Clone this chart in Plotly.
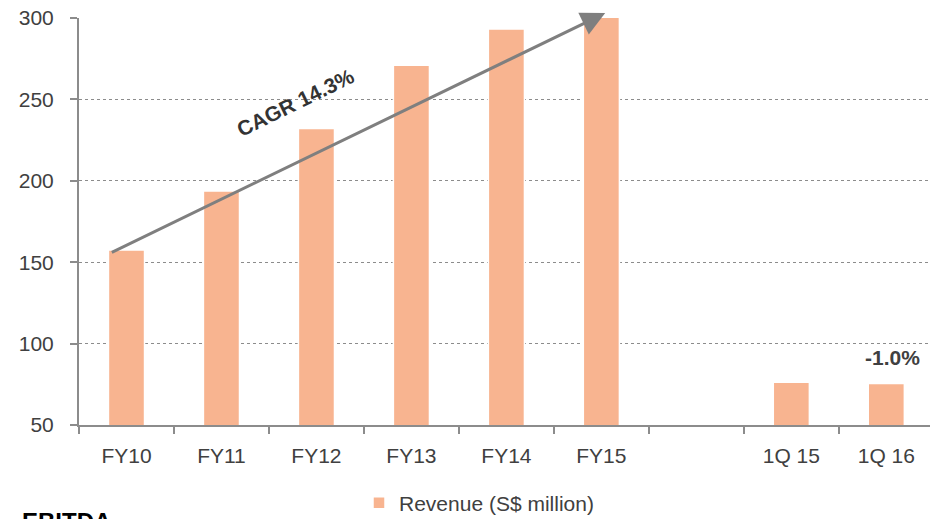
import plotly.graph_objects as go

categories = ["FY10", "FY11", "FY12", "FY13", "FY14", "FY15", " ", "1Q 15", "1Q 16"]
revenue = [157.5, 193.7, 232.2, 271.0, 293.2, 300.5, None, 76.3, 75.5]
series_name = "Revenue (S$ million)"
y_ticks = [50, 100, 150, 200, 250, 300]
cagr_label = "CAGR 14.3%"
change_label = "-1.0%"
section_title = "EBITDA"

FONT = "Liberation Sans, Arial, sans-serif"
GRAY_TXT = "#404040"
BAR = "#F8B490"

FIG_W, FIG_H = 930, 519
plot_left, plot_right, plot_top, plot_bottom = 79, 930, 18, 425
H = plot_bottom - plot_top
W = plot_right - plot_left

fig = go.Figure()
fig.add_trace(go.Bar(
    x=categories, y=revenue, name=series_name,
    marker=dict(color=BAR, line=dict(color="white", width=1.5)),
    width=0.38, showlegend=True,
))

# CAGR arrow from FY10 to FY15
fig.add_annotation(
    x=5.04, y=303, ax=-0.17, ay=155.6, xref="x", yref="y", axref="x", ayref="y",
    text="", showarrow=True, arrowhead=2, arrowsize=1.6, arrowwidth=3,
    arrowcolor="#7F7F7F",
)
fig.add_annotation(
    x=1.78, y=247.8, xref="x", yref="y", text="<b>" + cagr_label + "</b>",
    showarrow=False, textangle=-26, font=dict(family=FONT, size=21, color="#333333"),
)
fig.add_annotation(
    x=8.06, y=91.2, xref="x", yref="y", text="<b>" + change_label + "</b>",
    showarrow=False, font=dict(family=FONT, size=21, color=GRAY_TXT),
)
fig.add_annotation(
    x=(20 - plot_left) / W, y=(plot_bottom - 506) / H, xref="paper", yref="paper",
    text="<b>" + section_title + "</b>",
    showarrow=False, xanchor="left", yanchor="top",
    font=dict(family=FONT, size=24, color="#000000"),
)

fig.update_layout(
    width=FIG_W, height=FIG_H,
    margin=dict(l=plot_left, r=FIG_W - plot_right, t=plot_top, b=FIG_H - plot_bottom, pad=0,
                autoexpand=False),
    paper_bgcolor="white", plot_bgcolor="white",
    font=dict(family=FONT, size=21, color=GRAY_TXT),
    bargap=0.6,
    legend=dict(
        orientation="h", xref="container", x=479 / FIG_W, xanchor="center",
        yref="container", y=(FIG_H - 503) / FIG_H, yanchor="middle",
        font=dict(family=FONT, size=21, color=GRAY_TXT),
        bgcolor="rgba(0,0,0,0)", itemwidth=30,
    ),
    xaxis=dict(
        type="category", range=[-0.5, 8.46], showline=True, linecolor="#8C8C8C", linewidth=2,
        ticks="outside", ticklen=7, tickcolor="#8C8C8C", tickwidth=2, tickson="boundaries",
        showgrid=False, tickfont=dict(family=FONT, size=21, color=GRAY_TXT),
        ticklabelstandoff=11, fixedrange=True, automargin=False,
    ),
    yaxis=dict(
        range=[50, 300], tickvals=y_ticks, showline=True, linecolor="#8C8C8C", linewidth=2,
        ticks="outside", ticklen=7, tickcolor="#8C8C8C", tickwidth=2,
        showgrid=True, gridcolor="#8C8C8C", griddash="dot", gridwidth=1.2,
        zeroline=False, tickfont=dict(family=FONT, size=21, color=GRAY_TXT),
        ticklabelstandoff=12, fixedrange=True, automargin=False,
    ),
)

fig.write_html(
    "out.html",
    config={"displayModeBar": False},
    post_script="document.body.style.margin='0';document.body.style.overflow='hidden';",
)
